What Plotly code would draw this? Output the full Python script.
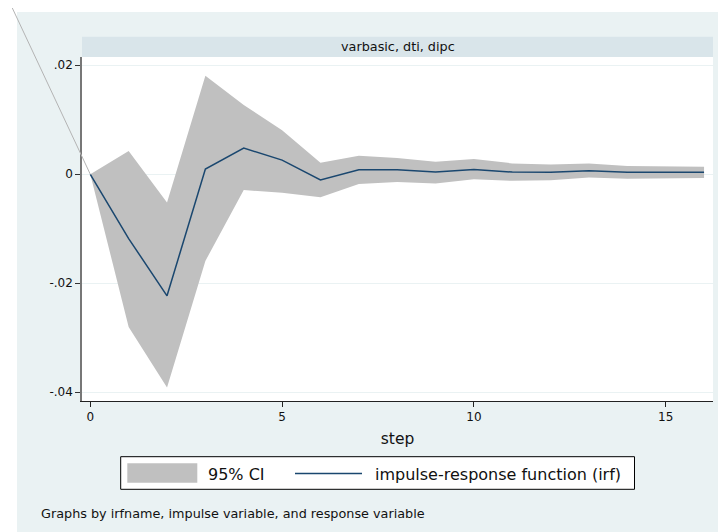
import plotly.graph_objects as go

# ---- data ----
steps = list(range(17))
irf = [0.0, -0.0118, -0.0223, 0.00097, 0.0048, 0.0026, -0.00105, 0.00084, 0.00084,
       0.0004, 0.0009, 0.0004, 0.00037, 0.00066, 0.00037, 0.00037, 0.00037]
ci_upper = [0.0, 0.00428, -0.0052, 0.0181, 0.0127, 0.0081, 0.0021, 0.0034, 0.0030,
            0.0023, 0.0028, 0.0020, 0.0018, 0.0020, 0.0015, 0.0014, 0.0014]
ci_lower = [0.0, -0.0280, -0.0391, -0.0159, -0.0029, -0.0034, -0.0042, -0.0018, -0.0014,
            -0.0017, -0.0009, -0.0012, -0.0011, -0.0006, -0.0008, -0.0007, -0.0007]
y_tickvals = [0.02, 0.0, -0.02, -0.04]
y_ticktext = [".02", "0", "-.02", "-.04"]
x_tickvals = [0, 5, 10, 15]
panel_title = "varbasic, dti, dipc"
legend_labels = ["95% CI", "impulse-response function (irf)"]
note_text = "Graphs by irfname, impulse variable, and response variable"

# ---- layout geometry (page has an 8px body margin) ----
OFF = 8
W, H = 726 - OFF, 532 - OFF
ML, MR, MT, MB = 82 - OFF, 13, 57 - OFF, 131
PW, PH = W - ML - MR, H - MT - MB
XR = [-0.2164, 16.233]
YR = [-0.0416, 0.02152]

FONT = "DejaVu Sans"
BG = "#EAF2F3"
STRIP = "#D9E5EA"
BAND = "#C0C0C0"
LINE = "#1A476F"


def xp(px):
    """page x pixel -> paper coordinate"""
    return (px - OFF - ML) / PW


def yp(py):
    """page y pixel -> paper coordinate"""
    return (MT + PH - (py - OFF)) / PH


fig = go.Figure()
fig.add_trace(go.Scatter(x=steps, y=ci_lower, mode="lines", line=dict(width=0, color=BAND),
                         hoverinfo="skip", showlegend=False, name="lower"))
fig.add_trace(go.Scatter(x=steps, y=ci_upper, mode="lines", line=dict(width=0, color=BAND),
                         fill="tonexty", fillcolor=BAND, showlegend=False, name=legend_labels[0]))
fig.add_trace(go.Scatter(x=steps, y=irf, mode="lines", line=dict(width=1.5, color=LINE),
                         showlegend=False, name=legend_labels[1]))

shapes = [
    # outer graph region
    dict(type="rect", xref="paper", yref="paper", x0=xp(17), x1=xp(740), y0=yp(545), y1=yp(12),
         fillcolor=BG, line=dict(width=0), layer="below"),
    # plot region
    dict(type="rect", xref="paper", yref="paper", x0=0, x1=1, y0=0, y1=1,
         fillcolor="white", line=dict(width=0), layer="below"),
    # strip
    dict(type="rect", xref="paper", yref="paper", x0=0, x1=1, y0=1, y1=yp(36.7),
         fillcolor=STRIP, line=dict(width=0), layer="below"),
    # legend box
    dict(type="rect", xref="paper", yref="paper", x0=xp(120.7), x1=xp(634.5), y0=yp(489.3), y1=yp(456.7),
         fillcolor="white", line=dict(width=1, color="black")),
    dict(type="rect", xref="paper", yref="paper", x0=xp(127.3), x1=xp(197.3), y0=yp(482.7), y1=yp(463.3),
         fillcolor=BAND, line=dict(width=0)),
    dict(type="line", xref="paper", yref="paper", x0=xp(295), x1=xp(362), y0=yp(473.5), y1=yp(473.5),
         line=dict(width=1.5, color=LINE)),
]
# thin diagonal stroke from the corner to the first response point
x_first = (steps[0] - XR[0]) / (XR[1] - XR[0])
y_first = (irf[0] - YR[0]) / (YR[1] - YR[0])
shapes.append(dict(type="line", xref="paper", yref="paper", x0=xp(11.7), y0=yp(6.7),
                   x1=x_first, y1=y_first, line=dict(width=1, color="#B4B4B4")))

annotations = [
    dict(text=panel_title, xref="paper", yref="paper", x=0.5, y=yp(47), xanchor="center", yanchor="middle",
         showarrow=False, font=dict(family=FONT, size=12.8, color="#111")),
    dict(text=legend_labels[0], xref="paper", yref="paper", x=xp(205.5), y=yp(474), xanchor="left",
         yanchor="middle", showarrow=False, font=dict(family=FONT, size=16, color="#111")),
    dict(text=legend_labels[1], xref="paper", yref="paper", x=xp(373), y=yp(474), xanchor="left",
         yanchor="middle", showarrow=False, font=dict(family=FONT, size=16, color="#111")),
    dict(text=note_text, xref="paper", yref="paper", x=xp(38.5), y=yp(513), xanchor="left",
         yanchor="middle", showarrow=False, font=dict(family=FONT, size=12.8, color="#111")),
]

fig.update_layout(
    width=W, height=H,
    margin=dict(l=ML, r=MR, t=MT, b=MB, pad=0),
    paper_bgcolor="white", plot_bgcolor="white",
    font=dict(family=FONT, color="#111"),
    shapes=shapes, annotations=annotations,
    showlegend=False,
    xaxis=dict(range=XR, tickvals=x_tickvals, ticks="outside", ticklen=5, tickcolor="#222",
               showgrid=False, zeroline=False, showline=True, linecolor="#222", linewidth=1,
               tickfont=dict(family=FONT, size=12, color="#111"),
               title=dict(text="step", font=dict(family=FONT, size=15.5, color="#111"), standoff=9)),
    yaxis=dict(range=YR, tickvals=y_tickvals, ticktext=y_ticktext, ticks="outside", ticklen=5,
               tickcolor="#333", showgrid=True, gridcolor=BG, gridwidth=1, zeroline=False,
               showline=True, linecolor="#777", linewidth=1.5,
               tickfont=dict(family=FONT, size=12, color="#111")),
)

fig.write_html("out.html")
